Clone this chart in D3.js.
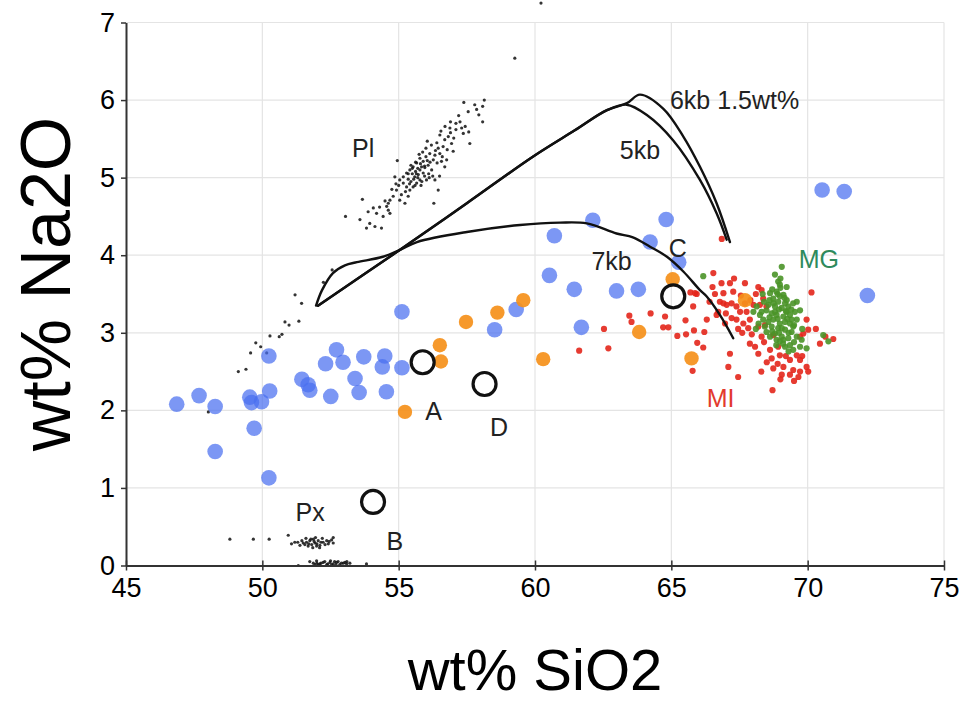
<!DOCTYPE html>
<html>
<head>
<meta charset="utf-8">
<script src="https://cdn.jsdelivr.net/npm/d3@7/dist/d3.min.js"></script>
<style>
  html, body { margin: 0; padding: 0; background: #fff; }
  svg { display: block; font-family: "Liberation Sans", Arial, Helvetica, sans-serif; }
</style>
</head>
<body>
<svg id="chart" width="968" height="702"></svg>
<script>
// ---- axis setup ----
const xDomain = [45, 75];
const yDomain = [0, 7];
const xTicks = [45, 50, 55, 60, 65, 70, 75];
const yTicks = [0, 1, 2, 3, 4, 5, 6, 7];
const xTitle = "wt% SiO2";
const yTitle = "wt% Na2O";

// ---- whole-rock analyses (blue) : [SiO2, Na2O] ----
const wholeRockBlue = [
  [46.86,2.08],[47.68,2.19],[48.27,2.05],[48.27,1.47],[49.54,2.17],[49.60,2.10],
  [49.70,1.77],[49.97,2.11],[50.24,2.70],[50.27,2.25],[50.24,1.13],[51.45,2.40],
  [51.68,2.33],[51.74,2.26],[52.32,2.60],[52.72,2.78],[52.96,2.62],[52.51,2.18],
  [53.40,2.41],[53.55,2.23],[53.72,2.69],[54.40,2.56],[54.49,2.70],[54.55,2.24],
  [55.12,3.27],[55.12,2.55],[58.52,3.04],[59.31,3.30],[60.71,4.25],[62.12,4.45],
  [64.81,4.46],[64.22,4.17],[65.27,3.91],[60.53,3.74],[61.44,3.56],[62.99,3.54],
  [63.79,3.56],[61.70,3.07],[72.19,3.48],[70.53,4.84],[71.34,4.82]
];

// ---- whole-rock analyses (orange) ----
const wholeRockOrange = [
  [55.23,1.98],[56.51,2.84],[56.55,2.63],[57.47,3.14],[58.62,3.26],[59.57,3.42],
  [60.30,2.66],[65.05,3.69],[63.82,3.01],[65.74,2.67],[67.70,3.42]
];

// ---- melt inclusions (MI) ----
const meltInclusions = [
  [61.62,2.77],[62.53,3.05],[62.69,2.80],[63.46,3.22],[63.54,3.14],[64.24,3.25],
  [64.77,3.21],[64.70,3.07],[64.89,3.07],[65.22,2.96],[65.52,3.16],[65.54,2.98],
  [65.83,3.03],[66.21,3.01],[65.95,2.87],[66.17,2.81],[66.66,3.23],[65.78,2.51],
  [66.54,3.77],[66.51,3.59],[65.87,3.51],[65.70,3.52],[66.85,4.21],[67.15,2.73],
  [67.09,2.56],[67.45,2.43],[68.71,2.26],[65.80,3.34],[65.93,3.50],
  [66.84,3.64],[67.15,3.64],[67.27,3.53],[66.91,3.51],[66.78,3.40],[67.03,3.36],
  [67.21,3.38],[67.70,3.64],[68.19,3.59],[68.31,3.55],[68.37,3.44],[68.25,3.36],
  [68.01,3.36],[68.49,3.34],[67.39,3.17],[67.64,3.12],[67.88,3.17],[67.82,3.06],
  [68.19,3.08],[68.43,3.10],[68.74,2.97],[68.31,2.95],[67.88,2.86],[68.07,2.82],
  [68.19,2.73],[68.62,2.78],[68.68,2.67],[68.92,2.82],[68.98,2.71],[69.11,2.56],
  [68.74,2.54],[69.35,2.65],[69.47,2.52],[69.72,2.50],[69.66,2.43],[69.35,2.46],
  [69.05,2.46],[69.96,2.56],[70.02,2.50],[69.72,2.65],[69.60,2.71],[69.96,3.17],
  [70.02,3.04],[69.84,2.99],[69.72,2.95],[70.45,2.86],[70.94,2.92],[70.14,3.52],
  [66.91,3.38],[67.39,3.34],[67.52,3.27],[66.72,3.27],[67.21,3.19],[66.97,3.12],
  [67.76,3.27],[67.30,3.70],[67.55,3.48],[67.90,3.42],[68.10,3.50],[67.60,3.00],
  [67.95,2.98],[68.40,2.88],[68.50,2.62],[68.30,2.50],[69.00,2.40],[69.50,2.38],
  [68.90,2.60],[69.20,2.70],[69.80,2.70],[66.40,3.40],[66.60,3.50],[67.00,3.25],
  [67.45,3.05],[67.70,3.38],[70.30,3.05],[70.65,2.95],[66.30,3.17]
];

// ---- matrix glass (MG) ----
const matrixGlass = [
  [66.17,3.73],[69.05,3.85],[68.98,3.62],[68.86,3.53],[69.11,3.49],[68.62,3.51],
  [68.74,3.44],[68.92,3.40],[69.17,3.38],[69.29,3.34],[69.05,3.32],[68.80,3.34],
  [68.49,3.29],[68.68,3.25],[68.86,3.23],[69.11,3.21],[69.35,3.23],[69.53,3.27],
  [69.60,3.17],[69.35,3.12],[69.17,3.14],[68.98,3.12],[68.74,3.17],[68.56,3.14],
  [68.92,3.06],[69.17,3.04],[69.41,3.01],[69.60,2.95],[69.29,2.93],[69.05,2.95],
  [68.80,2.99],[68.62,2.95],[68.49,3.01],[68.25,3.23],[68.37,3.17],[69.35,2.84],
  [69.72,2.82],[69.96,2.80],[69.47,2.78],[69.17,2.82],[68.98,2.89],[70.57,2.97],
  [70.76,2.89],[69.47,3.38],[69.72,3.29],[69.23,3.59],[68.92,3.66],[68.56,3.36],
  [68.01,3.27],[68.13,3.34],[68.80,3.27],[69.23,3.27],[69.05,3.06],[69.47,3.08],
  [68.68,3.08],[69.11,2.91],[68.86,2.91],[69.23,3.42],[68.98,3.47],[69.41,3.17],
  [69.78,2.91],[68.31,3.27],[68.43,3.08],[68.70,3.56],[68.90,3.50],[69.00,3.58],
  [69.15,3.45],[68.75,3.38],[68.95,3.30],[69.20,3.28],[69.40,3.30],[68.60,3.20],
  [68.90,3.18],[69.25,3.18],[69.50,3.10],[68.70,3.02],[68.95,3.00],[69.30,3.00],
  [69.50,2.88],[69.10,2.86],[68.85,2.84],[69.60,3.40],[68.40,3.40],[68.35,3.50],
  [68.60,3.42],[69.00,3.70],[68.80,3.75],[69.30,2.76],[69.80,3.05],[68.20,3.12],
  [68.10,3.05]
];

// ---- plagioclase (Pl) analyses ----
const plagioclase = [
  [57.39,5.97],[57.79,5.94],[57.86,5.88],[58.08,5.92],[58.14,6.00],[57.94,5.81],
  [58.08,5.72],[57.10,5.70],[56.88,5.64],[57.31,5.64],[57.44,5.66],[57.57,5.59],
  [57.37,5.57],[57.61,5.44],[57.02,5.51],[56.94,5.44],[56.82,5.53],[56.69,5.49],
  [56.51,5.55],[56.05,5.47],[56.63,5.40],[56.78,5.36],[57.00,5.34],[56.51,5.31],
  [56.33,5.29],[56.76,5.23],[56.57,5.21],[56.69,5.14],[56.41,5.19],[56.27,5.23],
  [56.14,5.31],[56.00,5.27],[55.90,5.21],[55.78,5.25],[55.66,5.19],[55.53,5.14],
  [55.41,5.10],[55.29,5.06],[55.17,5.01],[55.78,5.10],[55.90,5.06],[56.02,4.97],
  [55.78,4.97],[55.66,4.93],[55.53,4.88],[55.41,4.84],[55.29,4.88],[55.17,4.93],
  [55.04,4.97],[54.95,5.22],[54.86,5.01],[54.92,4.84],[54.80,4.76],[54.68,4.71],
  [54.62,4.67],[54.56,4.63],[55.04,4.71],[55.23,4.67],[55.35,4.76],[55.59,5.01],
  [55.72,5.04],[55.84,5.14],[55.96,5.13],[56.08,5.16],[56.21,5.10],[56.33,4.97],
  [56.45,4.84],[56.29,4.67],[53.67,4.72],[54.07,4.61],[53.88,4.56],[54.19,4.54],
  [54.43,4.50],[54.68,4.54],[54.62,4.58],[53.05,4.50],[53.58,4.46],[53.94,4.41],
  [54.13,4.37],[54.37,4.35],[53.82,4.35],[55.45,4.95],[55.60,4.90],[55.70,5.00],
  [55.35,4.98],[55.50,5.05],[55.85,4.95],[56.10,5.05],[55.95,5.15],[55.62,5.08],
  [55.50,5.12],[55.62,5.20],[55.75,5.30],[55.88,5.33],[56.00,5.38],[56.20,5.42],
  [56.40,5.45],[56.55,5.60],[56.70,5.66],[56.90,5.72],[57.20,5.80],[57.55,5.85],
  [55.40,4.92],[55.55,4.98],[55.65,5.05],[55.80,5.18],[56.05,5.22],[56.15,5.20],
  [56.35,5.35],[56.45,5.38],[55.25,4.82],[55.10,4.78],[55.00,4.90],[54.90,4.92],
  [55.45,5.16],[55.70,5.12],[55.95,5.02],[56.25,5.02],[56.60,5.27],[56.90,5.58],
  [57.10,5.62],[57.25,5.72],[54.75,4.85],[54.50,4.70],[54.30,4.62],[55.82,4.90],
  [56.12,5.00],[55.35,5.05],[56.50,5.02],
  [52.56,3.81],[52.24,3.65],[51.20,3.49],[51.44,3.38],[50.83,3.14],[50.98,3.10],
  [51.34,3.15],[50.28,2.96],[50.62,2.95],[50.72,2.98],[49.76,2.87],[49.94,2.82],
  [49.57,2.74],[50.16,2.74],[49.40,2.53],[49.12,2.50],[48.02,1.98],
  [59.26,6.54],[60.22,7.25]
];

// ---- pyroxene (Px) analyses ----
const pyroxene = [
  [48.81,0.34],[49.67,0.34],[50.25,0.34],[50.95,0.39],[51.07,0.28],[51.19,0.30],
  [51.38,0.26],[51.50,0.29],[51.62,0.30],[51.74,0.32],[51.81,0.27],[51.93,0.29],
  [52.05,0.32],[52.11,0.26],[52.23,0.30],[52.36,0.32],[52.42,0.28],[52.54,0.33],
  [52.60,0.29],[51.99,0.25],[51.68,0.25],[51.87,0.34],[52.60,0.36],
  [51.30,0.30],[51.45,0.32],[51.56,0.27],[51.70,0.28],[51.78,0.34],[51.90,0.31],
  [52.00,0.28],[52.15,0.30],[52.30,0.27],[52.45,0.31],[51.60,0.35],[52.20,0.35],
  [51.95,0.36],[51.85,0.23],[52.10,0.23],
  [51.32,0.00],[51.74,0.05],[51.87,0.03],[51.99,0.06],[52.11,0.02],[52.23,0.04],
  [52.36,0.01],[52.48,0.04],[52.60,0.02],[52.72,0.04],[52.84,0.01],[52.97,0.03],
  [53.09,0.02],[53.21,0.03],[53.82,0.02],[52.05,0.01],[52.29,0.05],[52.54,0.01],
  [52.78,0.05],[53.03,0.04],[51.93,0.01],[52.15,0.03],[52.40,0.02],[52.65,0.05],
  [52.90,0.03],[53.10,0.05],[52.50,0.06],[52.70,0.01],[52.00,0.03]
];

// ---- samples A-D ----
const sampleNames = ["A", "B", "C", "D"];
const samplePoints = [[55.88,2.62],[54.06,0.82],[65.07,3.47],[58.15,2.34]];

// ---- calculated liquid lines of descent (1.5 wt% H2O) ----
const path7kb = [
  [51.97,3.35],[52.19,3.55],[52.59,3.77],[53.03,3.87],[53.47,3.91],[54.42,3.98],
  [55.05,4.07],[55.67,4.17],[57.50,4.30],[59.45,4.39],[60.92,4.42],[61.90,4.41],
  [62.99,4.28],[63.59,4.23],[64.22,4.11],[64.84,3.98],[65.44,3.79],[66.05,3.55],
  [66.29,3.47],[66.78,3.23],[67.27,2.93]
];
const path6kb = [
  [52.04,3.35],[55.05,4.07],[57.50,4.67],[59.92,5.27],[61.46,5.61],[62.64,5.87],
  [63.37,5.96],[63.85,6.07],[64.70,5.89],[65.44,5.53],[66.05,5.14],[66.66,4.67],
  [67.15,4.17]
];
const path5kb = [
  [52.04,3.35],[55.05,4.07],[57.50,4.67],[59.92,5.27],[61.46,5.61],[62.64,5.87],
  [63.36,5.94],[64.09,5.81],[65.07,5.48],[66.05,4.97],[66.66,4.54],[67.03,4.20]
];

// ---- annotations (anchored in data space) ----
const annotations = [
  { text: "Pl", x: 53.70, y: 5.38, anchor: "middle", color: "#222" },
  { text: "Px", x: 51.75, y: 0.69, anchor: "middle", color: "#222" },
  { text: "A", x: 56.28, y: 1.99, anchor: "middle", color: "#222" },
  { text: "D", x: 58.68, y: 1.79, anchor: "middle", color: "#222" },
  { text: "B", x: 54.86, y: 0.32, anchor: "middle", color: "#222" },
  { text: "C", x: 65.24, y: 4.09, anchor: "middle", color: "#222" },
  { text: "6kb 1.5wt%", x: 64.95, y: 6.00, anchor: "start", color: "#222" },
  { text: "5kb", x: 63.85, y: 5.36, anchor: "middle", color: "#222" },
  { text: "7kb", x: 62.81, y: 3.93, anchor: "middle", color: "#222" },
  { text: "MG", x: 70.41, y: 3.95, anchor: "middle", color: "#2e8a5c" },
  { text: "MI", x: 66.81, y: 2.16, anchor: "middle", color: "#e23a2e" }
];

// ---- drawing ----
const svg = d3.select("#chart");
const x = d3.scaleLinear().domain(xDomain).range([126, 944]);
const y = d3.scaleLinear().domain(yDomain).range([565.5, 22.5]);

// grid
const grid = svg.append("g").attr("stroke", "#e4e4e4").attr("stroke-width", 1.2);
grid.selectAll("line.h").data(yTicks.filter(d => d > 0)).join("line")
  .attr("x1", x(xDomain[0])).attr("x2", x(xDomain[1]))
  .attr("y1", d => y(d)).attr("y2", d => y(d));
grid.selectAll("line.v").data(xTicks.filter(d => d > xDomain[0])).join("line")
  .attr("y1", y(yDomain[0])).attr("y2", y(yDomain[1]))
  .attr("x1", d => x(d)).attr("x2", d => x(d));

// mineral analyses (tiny black dots)
svg.append("g").selectAll("circle").data(plagioclase.concat(pyroxene)).join("circle")
  .attr("cx", d => x(d[0])).attr("cy", d => y(d[1])).attr("r", 1.6)
  .attr("fill", "#111").attr("fill-opacity", 0.85);

// whole-rock blue
svg.append("g").selectAll("circle").data(wholeRockBlue).join("circle")
  .attr("cx", d => x(d[0])).attr("cy", d => y(d[1])).attr("r", 7.8)
  .attr("fill", "#4a6ff0").attr("fill-opacity", 0.72);

// melt inclusions
svg.append("g").selectAll("circle").data(meltInclusions).join("circle")
  .attr("cx", d => x(d[0])).attr("cy", d => y(d[1])).attr("r", 3.1)
  .attr("fill", "#e3261b").attr("fill-opacity", 0.9);

// matrix glass
svg.append("g").selectAll("circle").data(matrixGlass).join("circle")
  .attr("cx", d => x(d[0])).attr("cy", d => y(d[1])).attr("r", 3.1)
  .attr("fill", "#4a9428").attr("fill-opacity", 0.9);

// whole-rock orange (on top of the glass analyses)
svg.append("g").selectAll("circle").data(wholeRockOrange).join("circle")
  .attr("cx", d => x(d[0])).attr("cy", d => y(d[1])).attr("r", 7.2)
  .attr("fill", "#f5901a").attr("fill-opacity", 0.92);

// model paths
const line = d3.line().x(d => x(d[0])).y(d => y(d[1])).curve(d3.curveCatmullRom.alpha(0.5));
svg.append("g").selectAll("path").data([path7kb, path6kb, path5kb]).join("path")
  .attr("d", line).attr("fill", "none").attr("stroke", "#111")
  .attr("stroke-width", 2.4).attr("stroke-linejoin", "round").attr("stroke-linecap", "round");

// samples
svg.append("g").selectAll("circle").data(samplePoints).join("circle")
  .attr("cx", d => x(d[0])).attr("cy", d => y(d[1])).attr("r", 11.5)
  .attr("fill", "none").attr("stroke", "#111").attr("stroke-width", 3.2);

// annotation text
svg.append("g").selectAll("text").data(annotations).join("text")
  .attr("x", d => x(d.x)).attr("y", d => y(d.y)).attr("dy", "0.36em")
  .attr("text-anchor", d => d.anchor).attr("fill", d => d.color)
  .attr("font-size", 25).text(d => d.text);

// axes
const yAxis = svg.append("g").attr("transform", `translate(${x(xDomain[0])},0)`)
  .call(d3.axisLeft(y).tickValues(yTicks).tickFormat(d3.format("d"))
    .tickSize(5).tickSizeOuter(0).tickPadding(6));
const xAxis = svg.append("g").attr("transform", `translate(0,${y(yDomain[0])})`)
  .call(d3.axisBottom(x).tickValues(xTicks).tickFormat(d3.format("d"))
    .tickSize(5).tickSizeOuter(0).tickPadding(7));
xAxis.selectAll(".tick line").attr("y1", -5);
[xAxis, yAxis].forEach(g => {
  g.select(".domain").attr("stroke", "#333").attr("stroke-width", 2);
  g.selectAll(".tick line").attr("stroke", "#333").attr("stroke-width", 1.5);
  g.selectAll(".tick text").attr("font-size", 27).attr("fill", "#000")
    .attr("font-family", "'Liberation Sans', Arial, sans-serif");
});

// axis titles
svg.append("text").attr("x", 535).attr("y", 690).attr("text-anchor", "middle")
  .attr("font-size", 58).attr("fill", "#000").text(xTitle);
svg.append("text").attr("transform", "translate(70,284) rotate(-90)")
  .attr("text-anchor", "middle").attr("font-size", 70).attr("fill", "#000").text(yTitle);
</script>
</body>
</html>
